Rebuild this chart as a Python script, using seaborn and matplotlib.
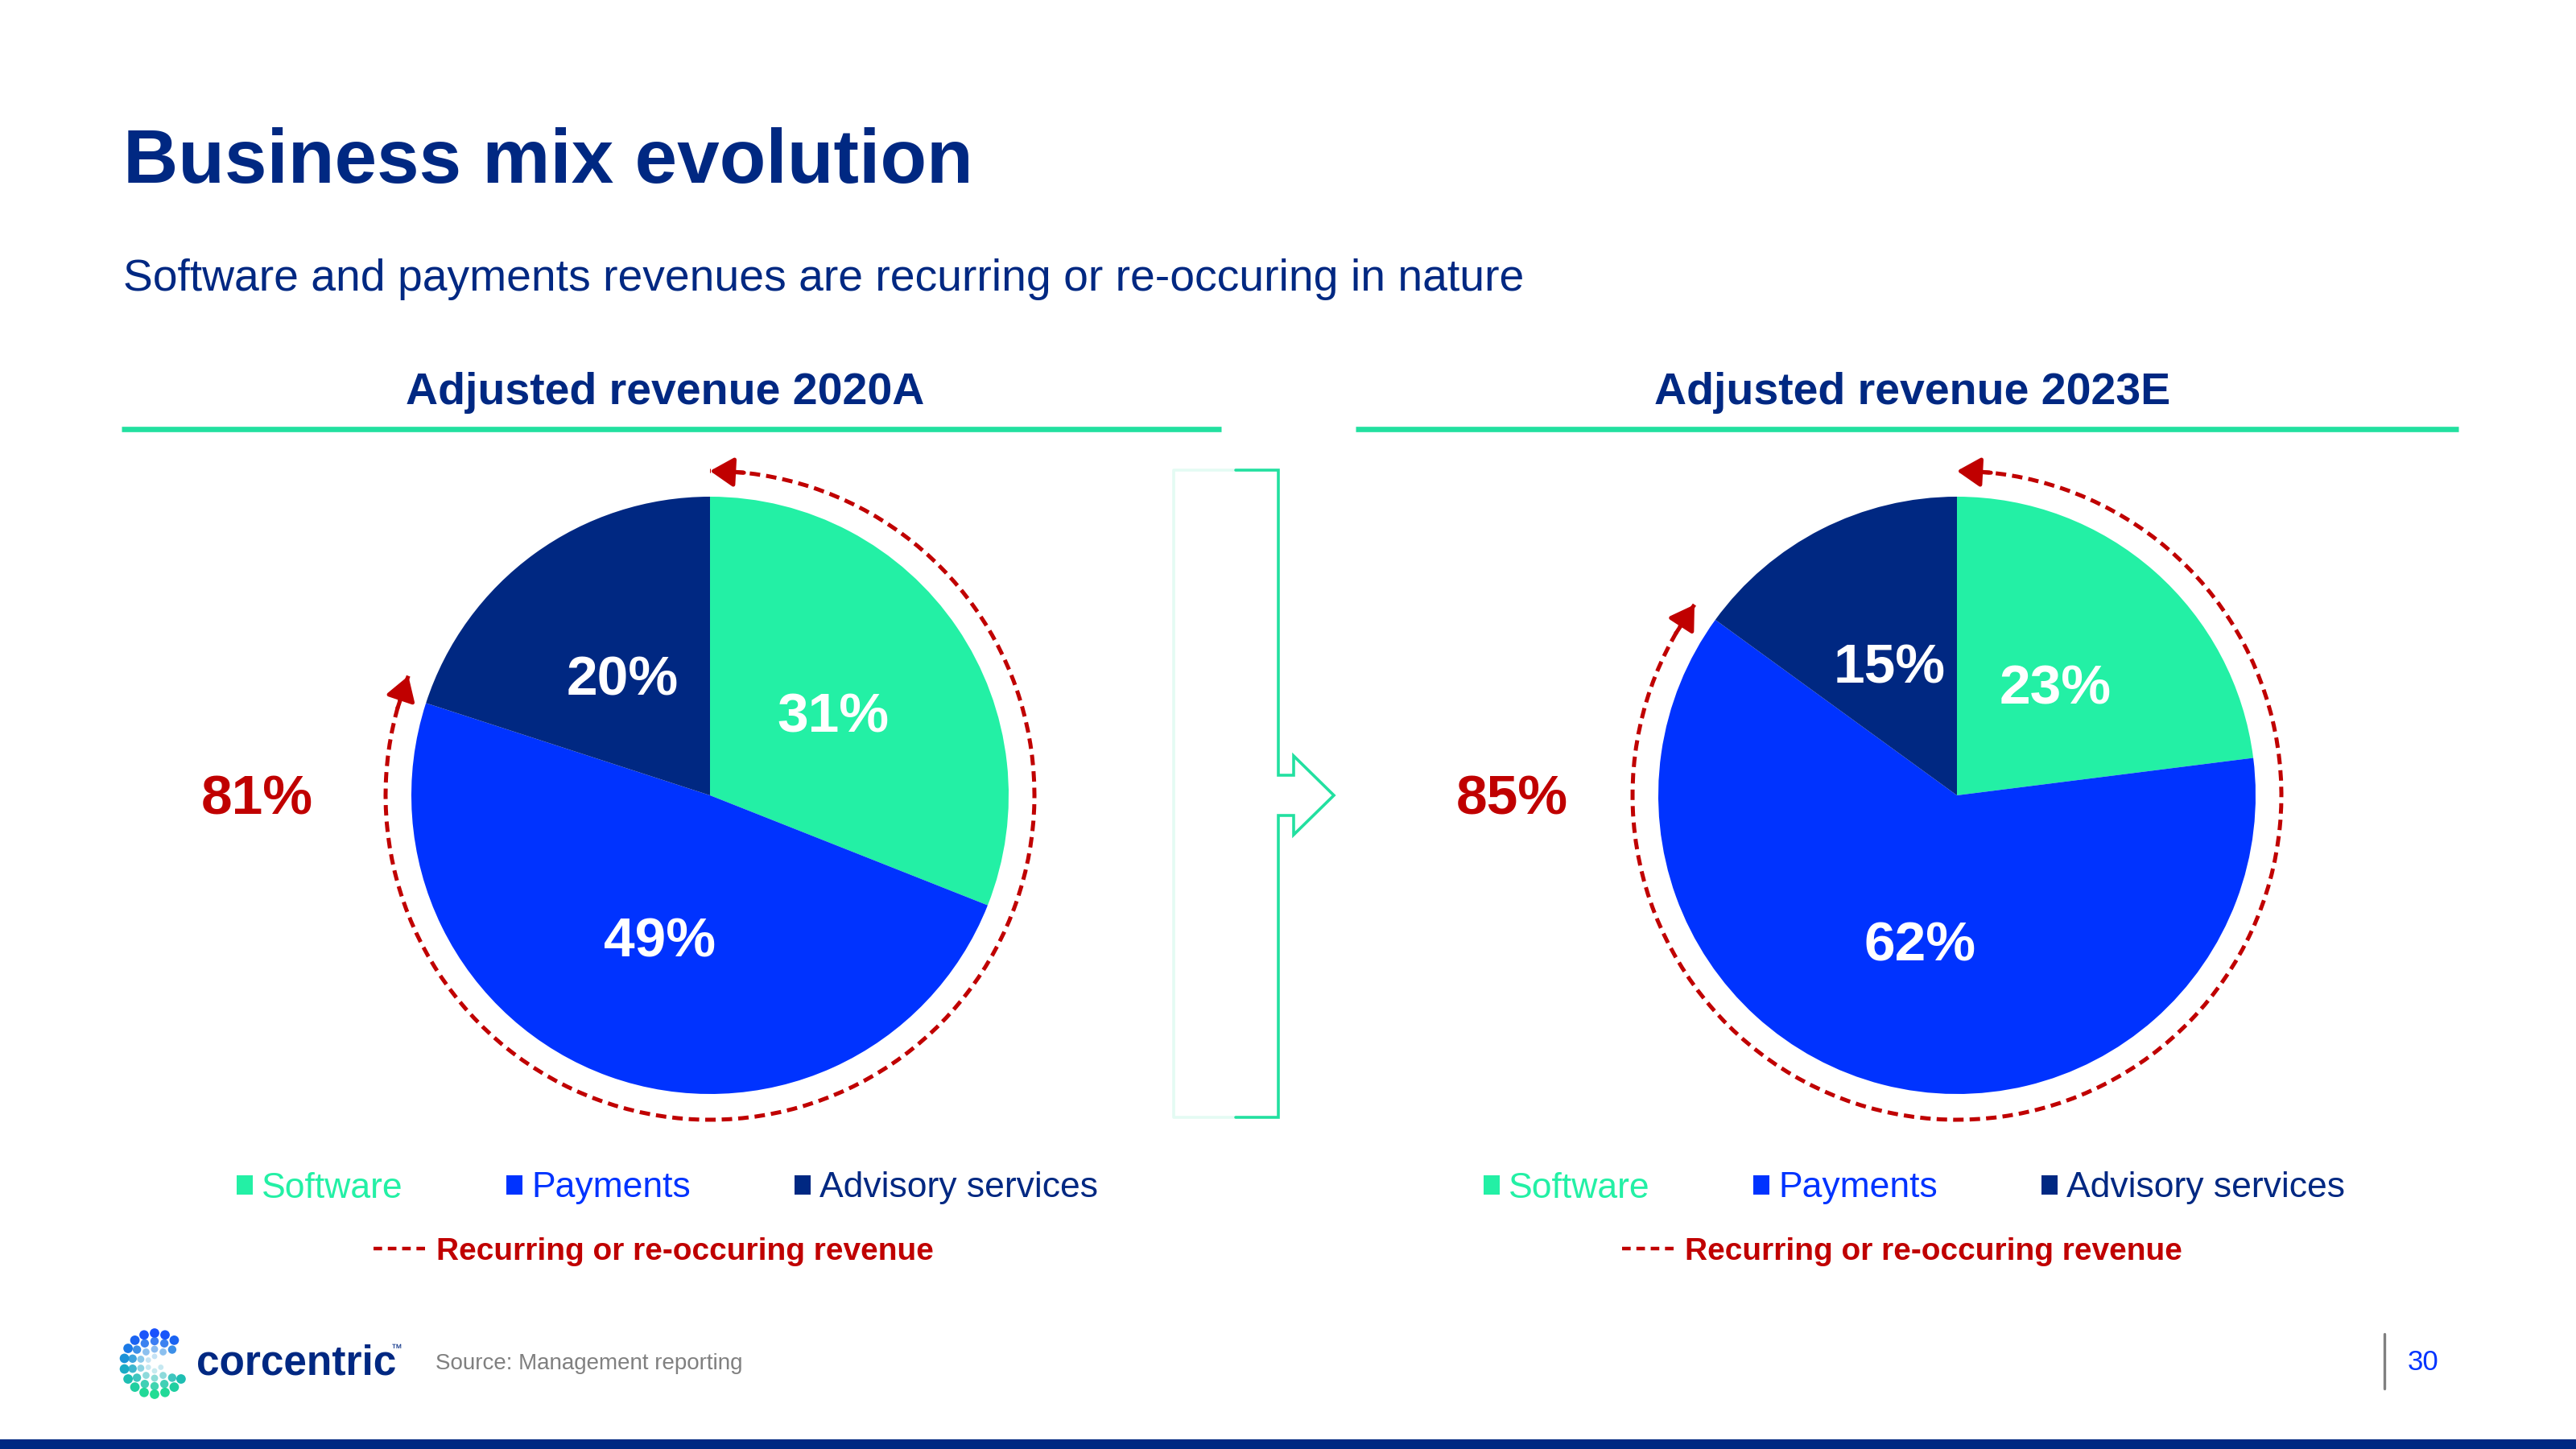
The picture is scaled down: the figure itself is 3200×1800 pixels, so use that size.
import numpy as np
import pandas as pd
import matplotlib
matplotlib.use("Agg")
import matplotlib.pyplot as plt
import seaborn as sns
from matplotlib.patches import Arc, Patch
from matplotlib.lines import Line2D
from matplotlib.colors import LinearSegmentedColormap

# ---------------- data ----------------
categories = ["Software", "Payments", "Advisory services"]
share_2020 = [31, 49, 20]
share_2023 = [23, 62, 15]
recurring_share = [81, 85]
panel_titles = ["Adjusted revenue 2020A", "Adjusted revenue 2023E"]
recurring_label = "Recurring or re-occuring revenue"
title = "Business mix evolution"
subtitle = "Software and payments revenues are recurring or re-occuring in nature"
source = "Source: Management reporting"
page_no = "30"

# ---------------- style ----------------
sns.set_theme(style="white")
plt.rcParams['font.family'] = ['Liberation Sans', 'DejaVu Sans']

NAVY = "#002882"
GREEN = "#23F0A5"
BLUE = "#0033FF"
RED = "#C00000"
LINE_GREEN = "#22E0A0"
palette = sns.color_palette([GREEN, BLUE, NAVY])

W, H = 3200, 1800
fig = plt.figure(figsize=(16, 9), dpi=200)
fig.patch.set_facecolor("white")

# background axes in pixel coordinates (for slide decorations)
bg = fig.add_axes([0, 0, 1, 1])
bg.set_xlim(0, W)
bg.set_ylim(H, 0)
bg.axis("off")

bg.text(153, 227, title, fontsize=34, fontweight="bold", color=NAVY, va="baseline", ha="left")
bg.text(153, 361, subtitle, fontsize=19.9, color=NAVY, va="baseline", ha="left")

# bottom bar
bg.fill_between([0, W], 1788, 1800, color=NAVY, lw=0)

# panel geometry
pie_centers = [(882, 988), (2431, 988)]
panel_centers = [826, 2376]
legend_centers = [829, 2378]
recur_centers = [812, 2363]
panel_spans = [(151, 1517), (1684, 3054)]
R = 371

for i in range(2):
    x0, x1 = panel_spans[i]
    bg.text(panel_centers[i], 502, panel_titles[i], fontsize=20, fontweight="bold",
            color=NAVY, ha="center", va="baseline")
    bg.plot([x0, x1], [533, 533], color=LINE_GREEN, lw=2.4, solid_capstyle="butt")

# ---------------- pies ----------------
datasets = [share_2020, share_2023]
for i, vals in enumerate(datasets):
    cx, cy = pie_centers[i]
    half = 1.25 * R
    ax = fig.add_axes([(cx - half) / W, (H - cy - half) / H, 2 * half / W, 2 * half / H])
    df = pd.DataFrame({"category": categories, "share": vals})
    wedges, texts, autotexts = ax.pie(
        df["share"], radius=1, startangle=90, counterclock=False,
        colors=palette, autopct=lambda p: f"{p:.0f}%", pctdistance=0.5,
        textprops=dict(color="white", fontsize=25, fontweight="bold"),
        wedgeprops=dict(linewidth=0, antialiased=True))
    for t in autotexts:
        x, y = t.get_position()
        t.set_position((x, y - 8 / R))
    ax.set_xlim(-1.25, 1.25)
    ax.set_ylim(-1.25, 1.25)
    ax.set_aspect("equal")
    ax.axis("off")

    # recurring dashed arc
    rr = 403 / R
    frac = recurring_share[i] / 100
    end_deg = 90 - frac * 360
    arc = Arc((0, 0), 2 * rr, 2 * rr, theta1=end_deg, theta2=90, color=RED,
              lw=1.8, linestyle=(0, (2.6, 1.5)))
    ax.add_patch(arc)
    ap = dict(arrowstyle="-|>,head_length=0.45,head_width=0.28", color=RED, lw=1.8,
              mutation_scale=20, shrinkA=0, shrinkB=0)
    # head at top, pointing counter-clockwise
    d = np.radians(6)
    ax.annotate("", xy=(0, rr), xytext=(rr * np.cos(np.pi / 2 - d), rr * np.sin(np.pi / 2 - d)),
                arrowprops=ap)
    e = np.radians(end_deg)
    ax.annotate("", xy=(rr * np.cos(e), rr * np.sin(e)),
                xytext=(rr * np.cos(e + d), rr * np.sin(e + d)), arrowprops=ap)

    # recurring total label
    bg.text([319, 1878][i], cy + 6, f"{recurring_share[i]}%", fontsize=25, fontweight="bold",
            color=RED, ha="center", va="center")

    # legends
    handles = [Patch(facecolor=c, edgecolor="none") for c in palette]
    fig.legend(handles=handles, labels=categories, ncol=3, loc="center",
               bbox_to_anchor=(legend_centers[i], 1476), bbox_transform=bg.transData,
               frameon=False, fontsize=16, labelcolor=[GREEN, BLUE, NAVY],
               handlelength=0.45, handleheight=0.45, handletextpad=0.25,
               columnspacing=2.9, borderpad=0, borderaxespad=0)
    lh = Line2D([0], [0], color=RED, lw=1.6, linestyle=(0, (2.4, 1.6)))
    leg2 = fig.legend(handles=[lh], labels=[recurring_label], loc="center",
                      bbox_to_anchor=(recur_centers[i], 1555), bbox_transform=bg.transData,
                      frameon=False, fontsize=14, labelcolor=RED,
                      handlelength=1.65, handletextpad=0.35, borderpad=0, borderaxespad=0)
    for t in leg2.get_texts():
        t.set_fontweight("bold")

# ---------------- transition arrow shape ----------------
LIGHT = "#E4FBF3"
bg.plot([1535, 1458, 1458, 1535], [584, 584, 1388, 1388], color=LIGHT, lw=1.3)
bg.plot([1535, 1588, 1588, 1607, 1607, 1657, 1607, 1607, 1588, 1588, 1535],
        [584, 584, 963, 963, 939, 988, 1037, 1013, 1013, 1388, 1388],
        color=LINE_GREEN, lw=1.3, solid_joinstyle="miter")

# ---------------- footer ----------------
cmap = LinearSegmentedColormap.from_list("logo", ["#1A4DFF", "#1AA0D0", "#22E090"])
lx, ly = 192, 1694
for rad, n, s, a in [(38, 18, 18, 1.0), (28, 14, 14, 0.85), (18, 10, 10, 0.5), (9, 6, 6, 0.25)]:
    ang = np.linspace(0, 2 * np.pi, n, endpoint=False) + np.pi / n
    keep = np.abs(np.degrees(np.arctan2(np.sin(ang), np.cos(ang)))) > 30
    xs = lx + rad * np.cos(ang[keep])
    ys = ly - rad * np.sin(ang[keep])
    cols = cmap((ys - (ly - 40)) / 80)
    bg.scatter(xs, ys, s=s, c=cols, alpha=a, linewidths=0)
bg.text(244, 1694, "corcentric", fontsize=18.5, fontweight="bold", color=NAVY, va="center", ha="left")
bg.text(486, 1675, "™", fontsize=5, color=NAVY, va="center", ha="left")
bg.text(541, 1694, source, fontsize=10, color="#808080", va="center", ha="left")
bg.plot([2962, 2962], [1657, 1725], color="#808080", lw=1.2)
bg.text(3010, 1692, page_no, fontsize=12.5, color=BLUE, va="center", ha="center")

fig.savefig("out.png", dpi=200, facecolor="white")
